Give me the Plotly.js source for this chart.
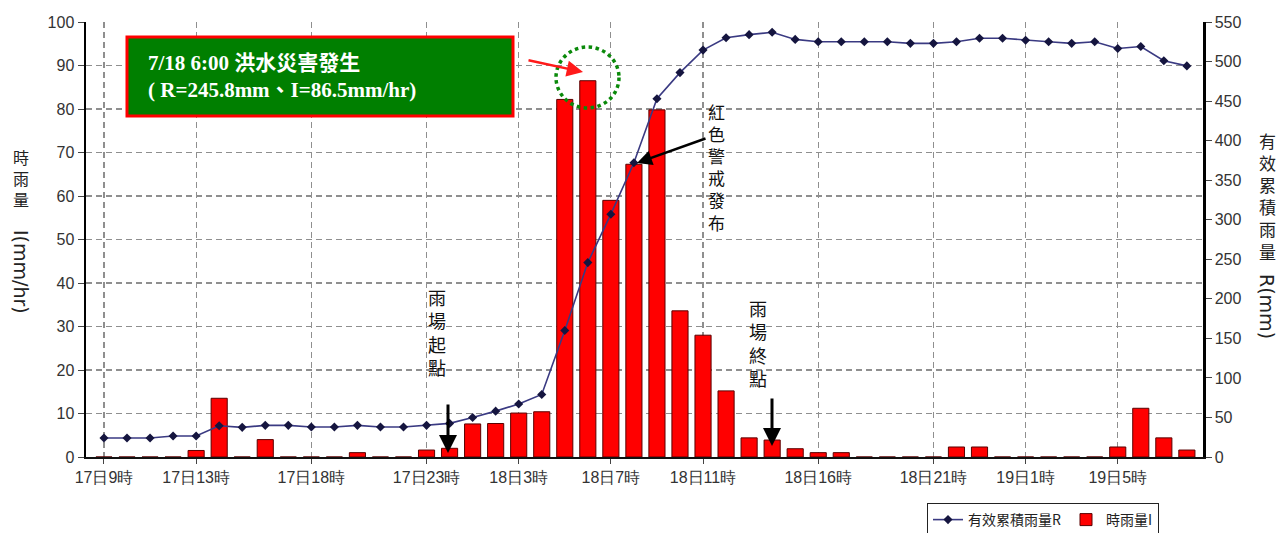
<!DOCTYPE html>
<html><head><meta charset="utf-8">
<script src="https://cdn.plot.ly/plotly-3.0.1.min.js"></script>
<style>html,body{margin:0;padding:0;background:#fff}#chart{width:1277px;height:533px}</style>
</head><body><div id="chart"></div>
<script>
// ---- data ----
const timeLabels = [
 "17日9時","17日10時","17日11時","17日12時","17日13時","17日14時","17日15時","17日16時","17日17時","17日18時","17日19時","17日20時","17日21時","17日22時","17日23時",
 "18日0時","18日1時","18日2時","18日3時","18日4時","18日5時","18日6時","18日7時","18日8時","18日9時","18日10時","18日11時","18日12時","18日13時","18日14時","18日15時","18日16時","18日17時","18日18時","18日19時","18日20時","18日21時","18日22時","18日23時",
 "19日0時","19日1時","19日2時","19日3時","19日4時","19日5時","19日6時","19日7時","19日8時"
];
const hourlyRainI = [
 0,0,0,0,1.5,13.5,0,4.0,0,0,0,1.0,0,0,1.6,
 2.0,7.6,7.7,10.1,10.4,82.2,86.5,59.0,67.3,79.8,33.6,28.0,15.2,4.4,3.9,1.9,1.0,1.0,0,0,0,0,2.3,2.3,
 0,0,0,0,0,2.3,11.2,4.4,1.6
];
const cumulativeR = [
 24,24,24,26.5,26.5,39.5,37.5,40,40,38,38,40,38,38,40,
 42.5,50,58,67,79,160,245.8,307,372,453,486,514.5,530,534,537,528,525,525,525,525,523,523,525,529.5,
 529.5,527,525,523,525,516.5,519,501,494.5
];
const tickLabels = ["17日9時","17日13時","17日18時","17日23時","18日3時","18日7時","18日11時","18日16時","18日21時","19日1時","19日5時"];
const seriesNames = ["有效累積雨量R","時雨量I"];

// ---- layout helpers (pixel -> paper) ----
const L=86, R=1203, T=22, B=457;
const px = x => (x-L)/(R-L);
const py = y => (B-y)/(B-T);
const cjk = '"Noto Sans CJK TC", "Noto Sans CJK SC", sans-serif';

const traces = [
 {type:'scatter', mode:'lines+markers', name:seriesNames[0], x:timeLabels, y:cumulativeR, yaxis:'y2',
  line:{color:'#3a3a82', width:1.6}, marker:{symbol:'diamond', size:7, color:'#15153f'}},
 {type:'bar', name:seriesNames[1], x:timeLabels, y:hourlyRainI, width:0.7,
  marker:{color:'#ff0000', line:{color:'#5a0000', width:1}}}
];

const annotations = [];
function vtext(chars, xc, ytop, ybot, size, color){
  annotations.push({xref:'paper',yref:'paper',x:px(xc),y:py((ytop+ybot)/2),text:chars.join('<br>'),showarrow:false,
    xanchor:'center',yanchor:'middle',align:'center',borderpad:0,font:{family:cjk,size:size,color:color||'#111'}});
}
vtext(['紅','色','警','戒','發','布'], 716, 100, 234, 17);
vtext(['雨','場','起','點'], 437, 286, 377, 18);
vtext(['雨','場','終','點'], 758, 297, 388, 18);
// axis titles
vtext(['時','雨','量'], 21, 145, 210, 16, '#222');
annotations.push({xref:'paper',yref:'paper',x:px(21),y:py(272),text:'I(mm/hr)',textangle:90,showarrow:false,borderpad:0,
  xanchor:'center',yanchor:'middle',font:{family:'DejaVu Sans',size:19,color:'#222'}});
vtext(['有','效','累','積','雨','量'], 1267, 124, 268, 17, '#222');
annotations.push({xref:'paper',yref:'paper',x:px(1267),y:py(306),text:'R(mm)',textangle:90,showarrow:false,borderpad:0,
  xanchor:'center',yanchor:'middle',font:{family:'DejaVu Sans',size:19,color:'#222'}});
// box text
annotations.push({xref:'paper',yref:'paper',x:px(146),y:py(76),xanchor:'left',yanchor:'middle',align:'left',showarrow:false,
  text:'<b>7/18 6:00 洪水災害發生</b><br><b>( R=245.8mm、I=86.5mm/hr)</b>',
  font:{family:'"Liberation Serif", "Noto Sans CJK TC", serif',size:21,color:'#ffffff'}});
// arrows
function arrow(hx,hy,tx,ty,color,w,size,head){
  annotations.push({xref:'paper',yref:'paper',x:px(hx),y:py(hy),ax:tx-hx,ay:ty-hy,text:'',showarrow:true,
    arrowcolor:color,arrowwidth:w,arrowsize:size,arrowhead:head,standoff:0,startstandoff:0});
}
arrow(583,72,527,60,'#ff1a1a',2.5,1.3,2);
arrow(637,163,707,138,'#000',2.5,1.2,2);
arrow(448,453,448,403,'#000',3,1.2,2);
arrow(772,446,772,397,'#000',3,1.2,2);

const shapes = [
 {type:'rect',xref:'paper',yref:'paper',x0:px(127),x1:px(513),y0:py(116),y1:py(37),fillcolor:'#007f00',line:{color:'#ff0000',width:3}},
 {type:'circle',xref:'paper',yref:'paper',x0:px(556),x1:px(619),y0:py(108),y1:py(47),line:{color:'#0a8a0a',width:3.5,dash:'dot'}}
];

const gridStyle = {showgrid:true, gridcolor:'#8f8f8f', gridwidth:1.2, griddash:'6px,4px'};
const tf = {family:'"Liberation Sans", Arial, sans-serif', size:16, color:'#333'};
const layout = {
 width:1277, height:533, margin:{l:L, r:1277-R, t:T, b:533-B, autoexpand:false},
 paper_bgcolor:'#fff', plot_bgcolor:'#fff', showlegend:true, bargap:0.3,
 xaxis:Object.assign({type:'category', range:[-0.78,47.7], tickmode:'array', tickvals:tickLabels, ticktext:tickLabels,
   ticks:'outside', ticklen:5, tickcolor:'#444', showline:true, linecolor:'#111', linewidth:2, zeroline:false, automargin:false,
   tickfont:tf}, gridStyle),
 yaxis:Object.assign({range:[0,100], dtick:10, ticks:'outside', ticklen:6, tickcolor:'#444', showline:true, linecolor:'#000', linewidth:2.5,
   zeroline:false, automargin:false, tickfont:tf}, gridStyle),
 yaxis2:{overlaying:'y', side:'right', range:[0,550], dtick:50, ticks:'outside', ticklen:6, tickcolor:'#444', showline:true,
   linecolor:'#000', linewidth:2.5, showgrid:false, zeroline:false, automargin:false, tickfont:tf},
 legend:{orientation:'h', x:px(927), y:py(503), xanchor:'left', yanchor:'top', bordercolor:'#222', borderwidth:1, bgcolor:'#fff',
   font:{family:cjk, size:14, color:'#222'}, traceorder:'normal', tracegroupgap:0},
 annotations:annotations, shapes:shapes
};
Plotly.newPlot('chart', traces, layout, {displayModeBar:false, staticPlot:true});
</script></body></html>
